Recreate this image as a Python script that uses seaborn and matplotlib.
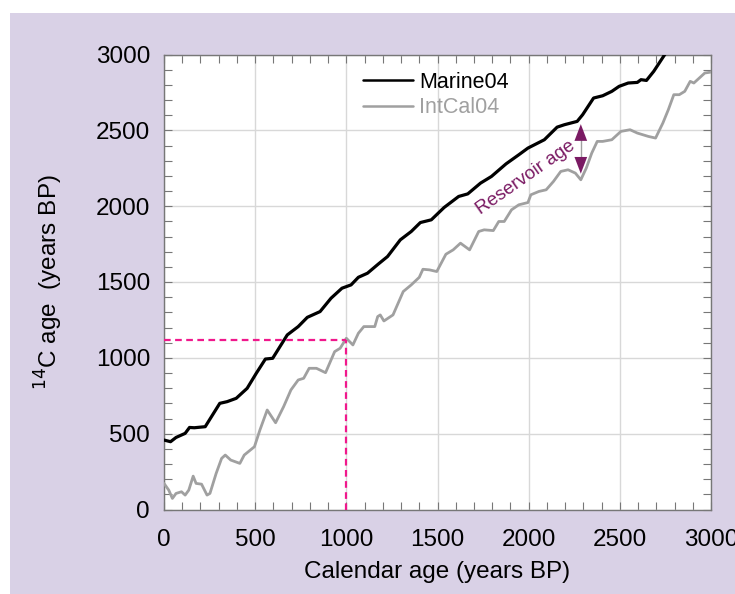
import numpy as np
import pandas as pd
import seaborn as sns
import matplotlib.pyplot as plt
from matplotlib.patches import Rectangle
from matplotlib.ticker import MultipleLocator
from matplotlib.lines import Line2D

# ---- data ----
marine_cal = [0, 36, 66, 116, 140, 166, 226, 266, 306, 346, 396, 456, 506, 556, 596, 636, 676, 736,
              786, 856, 916, 976, 1026, 1066, 1116, 1176, 1226, 1296, 1356, 1406, 1466, 1536, 1616,
              1666, 1736, 1796, 1876, 1946, 1996, 2086, 2156, 2196, 2266, 2296, 2356, 2406, 2456,
              2496, 2546, 2596, 2616, 2646, 2686, 2716, 2746, 2780]
marine_c14 = [458, 447, 475, 502, 541, 539, 546, 623, 700, 711, 733, 799, 898, 992, 997, 1074, 1151, 1206,
              1267, 1305, 1393, 1459, 1481, 1531, 1558, 1619, 1668, 1778, 1833, 1892, 1910, 1991, 2064,
              2081, 2152, 2196, 2279, 2339, 2383, 2438, 2521, 2537, 2559, 2603, 2713, 2728, 2757,
              2790, 2812, 2816, 2834, 2829, 2889, 2944, 2999, 3060]

intcal_cal = [0, 26, 46, 66, 96, 116, 136, 160, 176, 206, 236, 252, 286, 316, 336, 366, 416, 440, 496,
              526, 566, 612, 656, 696, 736, 766, 796, 836, 886, 936, 966, 1000, 1036, 1066, 1096, 1156,
              1172, 1186, 1206, 1256, 1312, 1356, 1400, 1420, 1456, 1496, 1546, 1586, 1626, 1676, 1726,
              1756, 1806, 1836, 1866, 1906, 1946, 1996, 2012, 2056, 2096, 2136, 2176, 2216, 2256, 2286,
              2316, 2346, 2376, 2406, 2456, 2506, 2556, 2596, 2656, 2696, 2736, 2766, 2796, 2826, 2856,
              2886, 2906, 2936, 2966, 3000]
intcal_c14 = [172, 128, 73, 106, 117, 95, 128, 220, 172, 167, 95, 106, 238, 337, 359, 326, 304, 359, 414,
              524, 656, 572, 678, 788, 854, 865, 931, 931, 902, 1041, 1063, 1129, 1085, 1162, 1206, 1206,
              1272, 1283, 1243, 1283, 1437, 1481, 1531, 1584, 1580, 1569, 1683, 1712, 1756, 1712, 1833,
              1844, 1839, 1899, 1899, 1976, 2009, 2024, 2075, 2097, 2108, 2163, 2229, 2240, 2218, 2174,
              2251, 2350, 2427, 2427, 2438, 2493, 2504, 2482, 2460, 2449, 2548, 2636, 2735, 2735, 2757,
              2823, 2812, 2845, 2878, 2884]

series_names = ["Marine04", "IntCal04"]
x_ticks = [0, 500, 1000, 1500, 2000, 2500, 3000]
y_ticks = [0, 500, 1000, 1500, 2000, 2500, 3000]
example_cal = 1000
example_c14 = 1120
arrow_cal = 2286
arrow_top = 2559
arrow_bottom = 2196

df = pd.concat([
    pd.DataFrame({"cal": marine_cal, "c14": marine_c14, "curve": series_names[0]}),
    pd.DataFrame({"cal": intcal_cal, "c14": intcal_c14, "curve": series_names[1]}),
])

sns.set_theme(style="white")
plt.rcParams['font.family'] = ['Liberation Sans', 'DejaVu Sans']

lav = "#D9D1E6"
purple = "#7A1A63"
pink = "#F0188C"
gray_line = "#A0A0A0"

fig = plt.figure(figsize=(7.35, 5.94), dpi=100, facecolor="white")
fig.patches.append(Rectangle((10 / 735, 0), 1, 1 - 13 / 594, transform=fig.transFigure,
                             facecolor=lav, edgecolor="none", zorder=-10))
ax = fig.add_axes([164 / 735, 1 - 509.5 / 594, (711 - 164) / 735, (509.5 - 54.5) / 594])
ax.set_facecolor("white")

palette = {series_names[0]: "black", series_names[1]: gray_line}
sns.lineplot(data=df, x="cal", y="c14", hue="curve", palette=palette, ax=ax,
             linewidth=2.0, legend=False, sort=False, zorder=3)
for l in ax.lines:
    l.set_solid_joinstyle("round")
ax.lines[0].set_linewidth(2.3)

# dashed example lines
ax.plot([0, example_cal], [example_c14, example_c14], color=pink, ls=(0, (3, 2)), lw=1.6, zorder=4)
ax.plot([example_cal, example_cal], [0, example_c14], color=pink, ls=(0, (3, 2)), lw=1.6, zorder=4)

# reservoir age arrow
ax.plot([arrow_cal, arrow_cal], [arrow_bottom + 60, arrow_top - 60], color=gray_line, lw=1, zorder=5)
for tip, base in [(arrow_top, arrow_top - 90), (arrow_bottom, arrow_bottom + 90)]:
    ax.annotate("", xy=(arrow_cal, tip), xytext=(arrow_cal, base),
                arrowprops=dict(arrowstyle="-|>,head_length=1.0,head_width=0.38", color=purple, lw=0.01),
                zorder=6)
ax.text(1985, 2185, "Reservoir age", rotation=35, color=purple, fontsize=13.5,
        ha="center", va="center", rotation_mode="anchor", zorder=6)

ax.set_xlim(0, 3000)
ax.set_ylim(0, 3000)
ax.set_xticks(x_ticks)
ax.set_yticks(y_ticks)
ax.set_xticklabels([str(v) for v in x_ticks])
ax.set_yticklabels([str(v) for v in y_ticks])
ax.xaxis.set_minor_locator(MultipleLocator(100))
ax.yaxis.set_minor_locator(MultipleLocator(100))
ax.grid(True, which="major", color="#D8D8D8", lw=1)
ax.tick_params(which="both", direction="in", top=True, right=True, bottom=True, left=True,
               color="#777777", labelsize=17.5, labelcolor="black")
ax.tick_params(which="both", length=6, width=0.8)
ax.tick_params(axis="x", which="both", pad=14)
ax.tick_params(axis="y", which="both", pad=10)
for s in ax.spines.values():
    s.set_color("#777777")
    s.set_linewidth(1)

ax.set_xlabel("Calendar age (years BP)", fontsize=17.5, labelpad=7, color="black")
ax.set_ylabel("$^{14}$C age  (years BP)", fontsize=17.5, labelpad=22, color="black")

# legend
handles = [Line2D([], [], color="black", lw=1.8), Line2D([], [], color=gray_line, lw=1.8)]
leg = ax.legend(handles, series_names, loc="upper left", bbox_to_anchor=(0.34, 0.99),
                frameon=False, fontsize=15.5, handlelength=2.35, handletextpad=0.25,
                labelspacing=0.2, borderaxespad=0.2)
for t, c in zip(leg.get_texts(), ["black", gray_line]):
    t.set_color(c)

fig.savefig("out.png", dpi=100, facecolor=fig.get_facecolor())
